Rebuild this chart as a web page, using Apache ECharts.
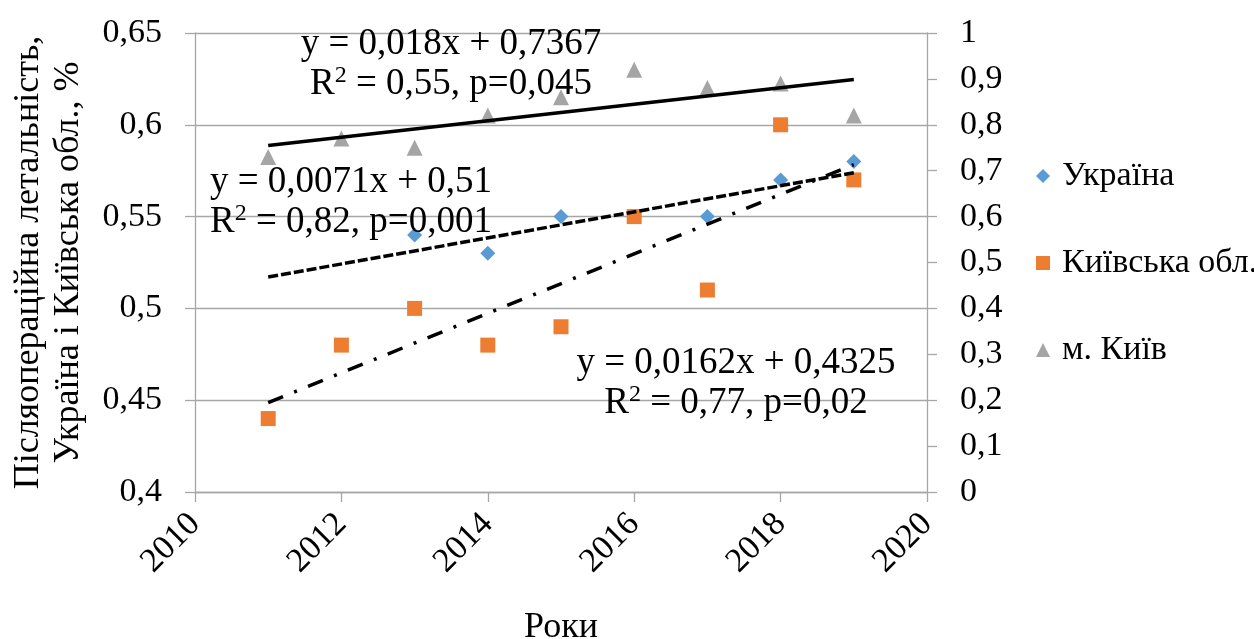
<!DOCTYPE html>
<html>
<head>
<meta charset="utf-8">
<script src="https://cdn.jsdelivr.net/npm/echarts@6/dist/echarts.min.js"></script>
<style>
  html, body { margin: 0; padding: 0; background: #ffffff; }
  #chart { width: 1254px; height: 639px; }
</style>
</head>
<body>
<div id="chart"></div>
<script>
// Post-operative mortality, %, by year
const years = [2011, 2012, 2013, 2014, 2015, 2016, 2017, 2018, 2019];
const ukraineYears = [2013, 2014, 2015, 2016, 2017, 2018, 2019];
const ukraine = [0.54, 0.53, 0.55, 0.55, 0.55, 0.57, 0.58];
const kyivOblast = [0.44, 0.48, 0.50, 0.48, 0.49, 0.55, 0.51, 0.60, 0.57];
const kyivCity = [0.73, 0.77, 0.75, 0.82, 0.86, 0.92, 0.88, 0.89, 0.82];

// Linear trends, x = 1 for 2011 ... 9 for 2019
const trendUkraine = { slope: 0.0071, intercept: 0.51 };
const trendOblast = { slope: 0.0162, intercept: 0.4325 };
const trendCity = { slope: 0.018, intercept: 0.7367 };

const names = ['Україна', 'Київська обл.', 'м. Київ'];
const FONT = 'Liberation Serif';

const fmt = v => String(+(+v).toFixed(2)).replace('.', ',');
const pairs = (xs, ys) => xs.map((x, i) => [x, ys[i]]);
const trendLine = t => [years[0], years[years.length - 1]].map(y => {
  const x = y - 2010;
  return [y, +(t.slope * x + t.intercept).toFixed(4)];
});

const chart = echarts.init(document.getElementById('chart'), null, { renderer: 'canvas' });

const axisGray = '#a6a6a6';
const labelStyle = { fontFamily: FONT, fontSize: 34, color: '#000' };
const nameStyle = { fontFamily: FONT, fontSize: 36, color: '#000' };

const eqRich = {
  a: { fontFamily: FONT, fontSize: 37, lineHeight: 40, fill: '#000' },
  s: { fontFamily: FONT, fontSize: 24, lineHeight: 28, verticalAlign: 'top', fill: '#000' }
};
function eqText(x, y, line1, r2rest) {
  return {
    type: 'text', x: x, y: y, z: 100,
    style: {
      text: '{a|' + line1 + '}\n{a|R}{s|2}{a|' + r2rest + '}',
      rich: eqRich,
      textAlign: 'center', textVerticalAlign: 'middle',
      fill: '#000'
    }
  };
}

chart.setOption({
  animation: false,
  backgroundColor: '#ffffff',
  grid: { left: 195, right: 327, top: 33, bottom: 147, containLabel: false, outerBoundsMode: 'none' },
  legend: {
    orient: 'vertical', left: 1031, top: 151,
    itemWidth: 14, itemHeight: 14, itemGap: 47,
    data: names,
    textStyle: { fontFamily: FONT, fontSize: 34, color: '#000', lineHeight: 40, padding: [0, 0, 0, 7] }
  },
  xAxis: {
    type: 'value', min: 2010, max: 2020, interval: 2,
    name: 'Роки', nameLocation: 'middle', nameGap: 118,
    nameTextStyle: nameStyle,
    axisLine: { onZero: false, lineStyle: { color: axisGray, width: 1.3 } },
    axisTick: { show: true, length: 10, lineStyle: { color: axisGray, width: 1.3 } },
    splitLine: { show: false },
    axisLabel: Object.assign({ rotate: 45, margin: 27, formatter: v => String(v) }, labelStyle)
  },
  yAxis: [
    {
      type: 'value', min: 0.4, max: 0.65, interval: 0.05,
      name: 'Післяопераційна летальність,\nУкраїна і Київська обл., %',
      nameLocation: 'middle', nameRotate: 90, nameGap: 106,
      nameTextStyle: Object.assign({ lineHeight: 40 }, nameStyle),
      axisLine: { show: true, lineStyle: { color: axisGray, width: 1.3 } },
      axisTick: { show: true, length: 10, lineStyle: { color: axisGray, width: 1.3 } },
      splitLine: { show: true, lineStyle: { color: axisGray, width: 1.3 } },
      axisLabel: Object.assign({ margin: 33, formatter: fmt }, labelStyle)
    },
    {
      type: 'value', min: 0, max: 1, interval: 0.1, position: 'right',
      axisLine: { show: true, lineStyle: { color: axisGray, width: 1.3 } },
      axisTick: { show: true, length: 10, lineStyle: { color: axisGray, width: 1.3 } },
      splitLine: { show: false },
      axisLabel: Object.assign({ margin: 33, formatter: fmt }, labelStyle)
    }
  ],
  series: [
    {
      name: names[0], type: 'scatter', symbol: 'diamond', symbolSize: 15,
      itemStyle: { color: '#5b9bd5', opacity: 1 }, data: pairs(ukraineYears, ukraine), z: 3
    },
    {
      name: names[1], type: 'scatter', symbol: 'rect', symbolSize: 15,
      itemStyle: { color: '#ed7d31', opacity: 1 }, data: pairs(years, kyivOblast), z: 3
    },
    {
      name: names[2], type: 'scatter', symbol: 'triangle', symbolSize: 16, yAxisIndex: 1,
      itemStyle: { color: '#a5a5a5', opacity: 1 }, data: pairs(years, kyivCity), z: 3
    },
    {
      type: 'line', symbol: 'none', silent: true, z: 4,
      lineStyle: { color: '#000', width: 3.5, type: [10, 3] },
      data: trendLine(trendUkraine)
    },
    {
      type: 'line', symbol: 'none', silent: true, z: 4,
      lineStyle: { color: '#000', width: 3.5, type: [16, 12, 3, 12] },
      data: trendLine(trendOblast)
    },
    {
      type: 'line', symbol: 'none', silent: true, z: 4, yAxisIndex: 1,
      lineStyle: { color: '#000', width: 3.5 },
      data: trendLine(trendCity)
    }
  ],
  graphic: [
    eqText(451, 64, 'y = 0,018x + 0,7367', ' = 0,55, p=0,045'),
    eqText(351, 202, 'y = 0,0071x + 0,51', ' = 0,82, p=0,001'),
    eqText(736, 383, 'y = 0,0162x + 0,4325', ' = 0,77, p=0,02')
  ]
});
</script>
</body>
</html>
